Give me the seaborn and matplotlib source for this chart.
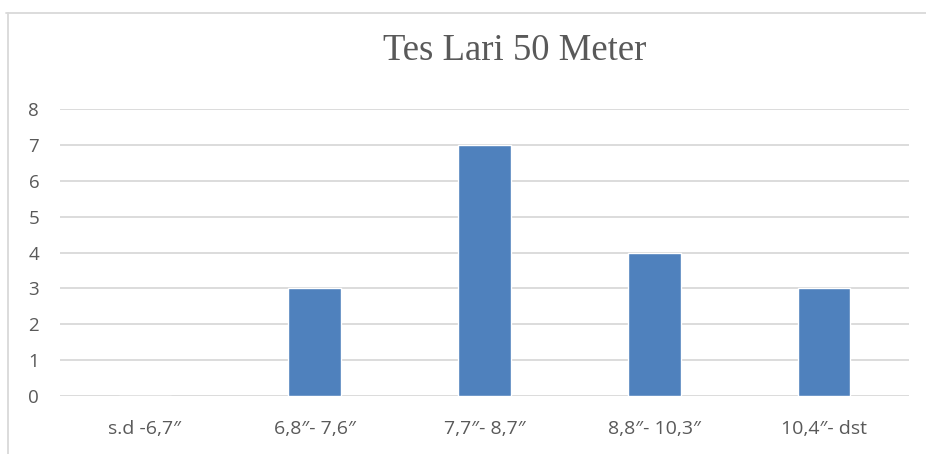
import matplotlib
matplotlib.use("Agg")
import matplotlib.pyplot as plt
import seaborn as sns
import pandas as pd
from matplotlib.lines import Line2D

categories = ["s.d -6,7\u2033", "6,8\u2033- 7,6\u2033", "7,7\u2033- 8,7\u2033", "8,8\u2033- 10,3\u2033", "10,4\u2033- dst"]
values = [0, 3, 7, 4, 3]
yticks = [0, 1, 2, 3, 4, 5, 6, 7, 8]
title = "Tes Lari 50 Meter"

df = pd.DataFrame({"cat": categories, "val": values})

sns.set_theme(style="white")
plt.rcParams['font.family'] = ['Open Sans', 'DejaVu Sans']

W, H = 926, 454
fig = plt.figure(figsize=(W/100, H/100), dpi=100)
ax = fig.add_axes([60/W, 1-396/H, (909-60)/W, (396-109)/H])

sns.barplot(data=df, x="cat", y="val", color="#4F81BD", saturation=1, width=0.31, ax=ax, zorder=3)
ax.set_ylim(0, 8)
ax.set_xlim(-0.5, 4.5)
ax.set_yticks(yticks)
ax.yaxis.grid(True, color="#D9D9D9", linewidth=1.3, zorder=0)
ax.set_axisbelow(True)
for s in ax.spines.values():
    s.set_visible(False)
ax.set_xlabel("")
ax.set_ylabel("")
ax.tick_params(axis="y", length=0, colors="#595959", labelsize=13.5, pad=15)
ax.tick_params(axis="x", length=0, colors="#595959", labelsize=14, pad=17)
for lab in ax.get_xticklabels() + ax.get_yticklabels():
    lab.set_color("#595959")

fig.text(515/W, 1-51/H, title, ha="center", va="center", fontsize=26.5,
         family=["Liberation Serif", "DejaVu Serif"], color="#595959")

# chart border (top and left)
fig.add_artist(Line2D([6/W, 1], [1-13/H, 1-13/H], color="#D9D9D9", linewidth=1.3, transform=fig.transFigure))
fig.add_artist(Line2D([7.5/W, 7.5/W], [0, 1-13/H], color="#D9D9D9", linewidth=1.3, transform=fig.transFigure))

fig.savefig("out.png", dpi=100)
